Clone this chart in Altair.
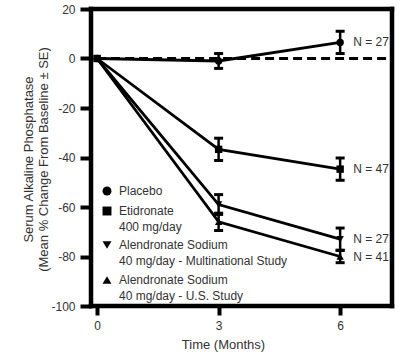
import altair as alt
import pandas as pd

# ---- data ----
times = [0, 3, 6]
groups = ["Placebo", "Etidronate", "Alendronate Multinational", "Alendronate U.S."]
placebo = [0, -1, 6.5]
etidronate = [0, -36.7, -44.7]
alen_multi = [0, -59, -73]
alen_us = [0, -66, -80]
placebo_se = [0, 3, 4.5]
etidronate_se = [0, 4.5, 4.5]
alen_multi_se = [0, 4, 4.5]
alen_us_se = [0, 3.5, 2.5]
shapes = ["circle", "square", "triangle-down", "triangle-up"]
n_labels = ["N = 27", "N = 47", "N = 27", "N = 41"]
legend_lines = [
    ["Placebo"],
    ["Etidronate", "400 mg/day"],
    ["Alendronate Sodium", "40 mg/day - Multinational Study"],
    ["Alendronate Sodium", "40 mg/day - U.S. Study"],
]
y_ticks = [20, 0, -20, -40, -60, -80, -100]
x_ticks = [0, 3, 6]

FONT = "Liberation Sans Narrow, Liberation Sans, Arial"
INK = "#000000"
TXT = "#333333"

rows = []
for g, vals, ses in zip(groups, [placebo, etidronate, alen_multi, alen_us],
                        [placebo_se, etidronate_se, alen_multi_se, alen_us_se]):
    for t, v, s in zip(times, vals, ses):
        rows.append({"group": g, "time": t, "value": v, "lo": v - s, "hi": v + s, "se": s})
df = pd.DataFrame(rows)
err = df[df["se"] > 0]
last = df[df["time"] == 6].copy()
last["label"] = n_labels
one = pd.DataFrame({"k": [0]})

xs = alt.Scale(domain=[-0.15, 7.28], nice=False, zero=False)
ys = alt.Scale(domain=[-100, 20], nice=False, zero=False)
shape_scale = alt.Scale(domain=groups, range=shapes)

xaxis = alt.Axis(values=x_ticks, title="Time (Months)", domain=False, grid=False,
                 tickSize=9, tickWidth=4, tickColor=INK, tickOpacity=1, labelPadding=5,
                 labelColor=TXT, labelFont=FONT, labelFontSize=12,
                 titleFont=FONT, titleFontSize=13, titleFontWeight="normal",
                 titleColor=TXT, titleX=132, titleY=32, titleBaseline="top")
yaxis = alt.Axis(values=y_ticks, title=["Serum Alkaline Phosphatase", "(Mean % Change From Baseline ± SE)"],
                 labelExpr="toString(datum.value)",
                 domain=False, grid=False, tickSize=11, tickWidth=4, tickColor=INK, tickOpacity=1,
                 labelPadding=5, labelColor=TXT, labelFont=FONT, labelFontSize=12,
                 titleFont=FONT, titleFontSize=13, titleFontWeight="normal",
                 titleColor=TXT, titleLineHeight=15, titleX=-56, titleY=150,
                 titleAlign="center", titleBaseline="bottom", titleAngle=270)

base = alt.Chart(df)

# plot frame drawn as four thick rules
FW = 4.5
frame = [
    alt.Chart(one).mark_rule(color=INK, strokeWidth=FW, strokeCap="square").encode(
        x=alt.value(0), x2=alt.value(301), y=alt.value(0)),
    alt.Chart(one).mark_rule(color=INK, strokeWidth=FW, strokeCap="square").encode(
        x=alt.value(0), x2=alt.value(301), y=alt.value(297)),
    alt.Chart(one).mark_rule(color=INK, strokeWidth=FW, strokeCap="square").encode(
        x=alt.value(0), y=alt.value(0), y2=alt.value(297)),
    alt.Chart(one).mark_rule(color=INK, strokeWidth=FW, strokeCap="square").encode(
        x=alt.value(301), y=alt.value(0), y2=alt.value(297)),
]

zero_line = alt.Chart(one).mark_rule(color=INK, strokeWidth=2.8, strokeDash=[9, 5]).encode(
    x=alt.datum(0, scale=xs), x2=alt.value(301), y=alt.datum(0, scale=ys))

lines = base.mark_line(color=INK, strokeWidth=2.8).encode(
    x=alt.X("time:Q", scale=xs, axis=xaxis),
    y=alt.Y("value:Q", scale=ys, axis=yaxis),
    detail="group:N")

rules = alt.Chart(err).mark_rule(color=INK, strokeWidth=2.5).encode(
    x=alt.X("time:Q", scale=xs), y=alt.Y("lo:Q", scale=ys), y2="hi:Q")
cap_lo = alt.Chart(err).mark_tick(color=INK, orient="horizontal", size=9, thickness=3, opacity=1).encode(
    x=alt.X("time:Q", scale=xs), y=alt.Y("lo:Q", scale=ys))
cap_hi = alt.Chart(err).mark_tick(color=INK, orient="horizontal", size=9, thickness=3, opacity=1).encode(
    x=alt.X("time:Q", scale=xs), y=alt.Y("hi:Q", scale=ys))

points = base.mark_point(filled=True, color=INK, opacity=1, size=55).encode(
    x=alt.X("time:Q", scale=xs), y=alt.Y("value:Q", scale=ys),
    shape=alt.Shape("group:N", scale=shape_scale, legend=None))

nlab = alt.Chart(last).mark_text(align="left", baseline="middle", dx=13, font=FONT,
                                 fontSize=12, color=TXT).encode(
    x=alt.X("time:Q", scale=xs), y=alt.Y("value:Q", scale=ys), text="label:N")

layers = [lines] + frame + [zero_line, rules, cap_lo, cap_hi, points, nlab]

# manual legend inside the plot
entry_y = [182, 202, 236, 271]
for shp, lines_txt, yy in zip(shapes, legend_lines, entry_y):
    layers.append(alt.Chart(one).mark_point(filled=True, color=INK, opacity=1, size=80, shape=shp).encode(
        x=alt.value(16), y=alt.value(yy)))
    for i, ln in enumerate(lines_txt):
        layers.append(alt.Chart(one).mark_text(align="left", baseline="middle", font=FONT,
                                               fontSize=12, color=TXT, text=ln).encode(
            x=alt.value(28), y=alt.value(yy + 16 * i)))

chart = alt.layer(*layers).properties(
    width=301, height=297,
    padding={"left": 91, "top": 9, "right": 8, "bottom": 49},
    autosize=alt.AutoSizeParams(type="none"),
    background="white",
).configure_view(stroke=None)

chart.save("out.html", embed_options={"renderer": "svg", "actions": False})
